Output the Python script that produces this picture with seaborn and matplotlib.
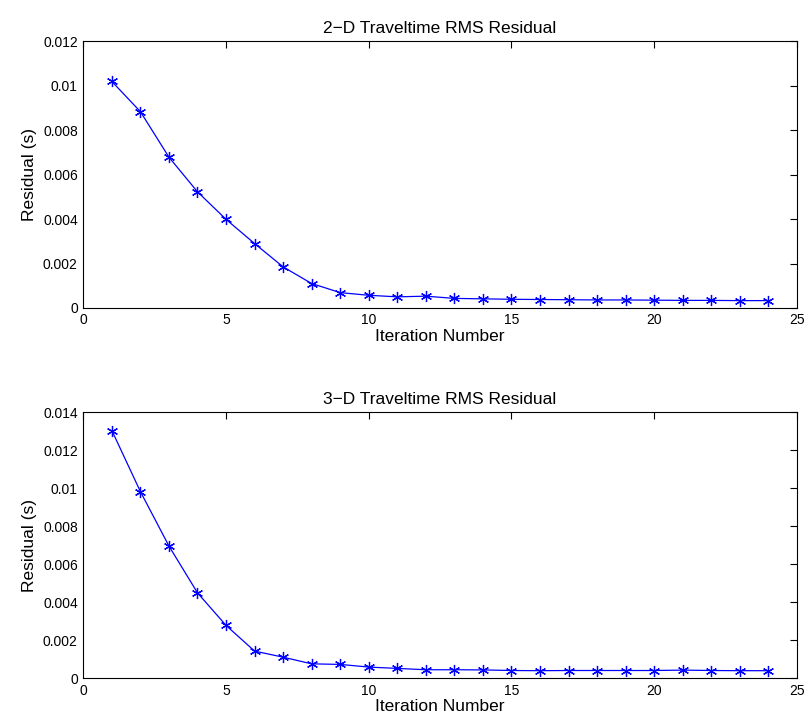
import numpy as np
import pandas as pd
import seaborn as sns
from matplotlib import pyplot as plt
from matplotlib.ticker import FuncFormatter

# --------------- data --------------- #
iterations = list(range(1, 25))

res_2d = [0.0102, 0.00884, 0.00679, 0.00523, 0.00399, 0.00290, 0.00185, 0.00110,
          0.00069, 0.00057, 0.00050, 0.00053, 0.00043, 0.00041, 0.00039, 0.00038,
          0.00037, 0.00036, 0.00036, 0.00035, 0.00034, 0.00034, 0.00033, 0.00033]

res_3d = [0.01303, 0.00982, 0.00696, 0.00450, 0.00279, 0.00144, 0.00112, 0.00077,
          0.00074, 0.00060, 0.00053, 0.00046, 0.00046, 0.00045, 0.00042, 0.00041,
          0.00042, 0.00042, 0.00042, 0.00042, 0.00044, 0.00042, 0.00041, 0.00041]

titles = ["2\u2212D Traveltime RMS Residual", "3\u2212D Traveltime RMS Residual"]
ylims = [0.012, 0.014]
# ------------------------------------------------------------ #

sns.set_theme(style="white")
plt.rcParams['font.family'] = ['Liberation Sans', 'DejaVu Sans']
plt.rcParams['text.color'] = 'black'
plt.rcParams['axes.labelcolor'] = 'black'

fig = plt.figure(figsize=(8.09, 7.28), dpi=100)
axes = [fig.add_axes([0.103, 0.577, 0.882, 0.366]),
        fig.add_axes([0.103, 0.068, 0.882, 0.366])]

fmt = FuncFormatter(lambda v, p: "%g" % round(v, 6))

for ax, res, title, ytop in zip(axes, [res_2d, res_3d], titles, ylims):
    df = pd.DataFrame({"Iteration": iterations, "Residual": res})
    sns.lineplot(data=df, x="Iteration", y="Residual", ax=ax, color="#0000ff",
                 linewidth=0.9, marker=(6, 2, 0), markersize=8,
                 markeredgecolor="#0000ff", markeredgewidth=0.9)
    ax.set_xlim(0, 25)
    ax.set_ylim(0, ytop)
    ax.set_xticks(np.arange(0, 26, 5))
    ax.set_yticks(np.arange(0, ytop + 1e-9, 0.002))
    ax.yaxis.set_major_formatter(fmt)
    ax.tick_params(direction="in", length=5, width=0.8, top=True, right=True,
                   labelsize=10, colors="black", pad=4)
    for s in ax.spines.values():
        s.set_color("black")
        s.set_linewidth(0.8)
    ax.set_title(title, fontsize=12.5, pad=6, color="black")
    ax.set_xlabel("Iteration Number", fontsize=12.5, labelpad=1, color="black")
    ax.set_ylabel("Residual (s)", fontsize=12.5, labelpad=4, color="black")

fig.savefig("out.png", dpi=100, facecolor="white")
